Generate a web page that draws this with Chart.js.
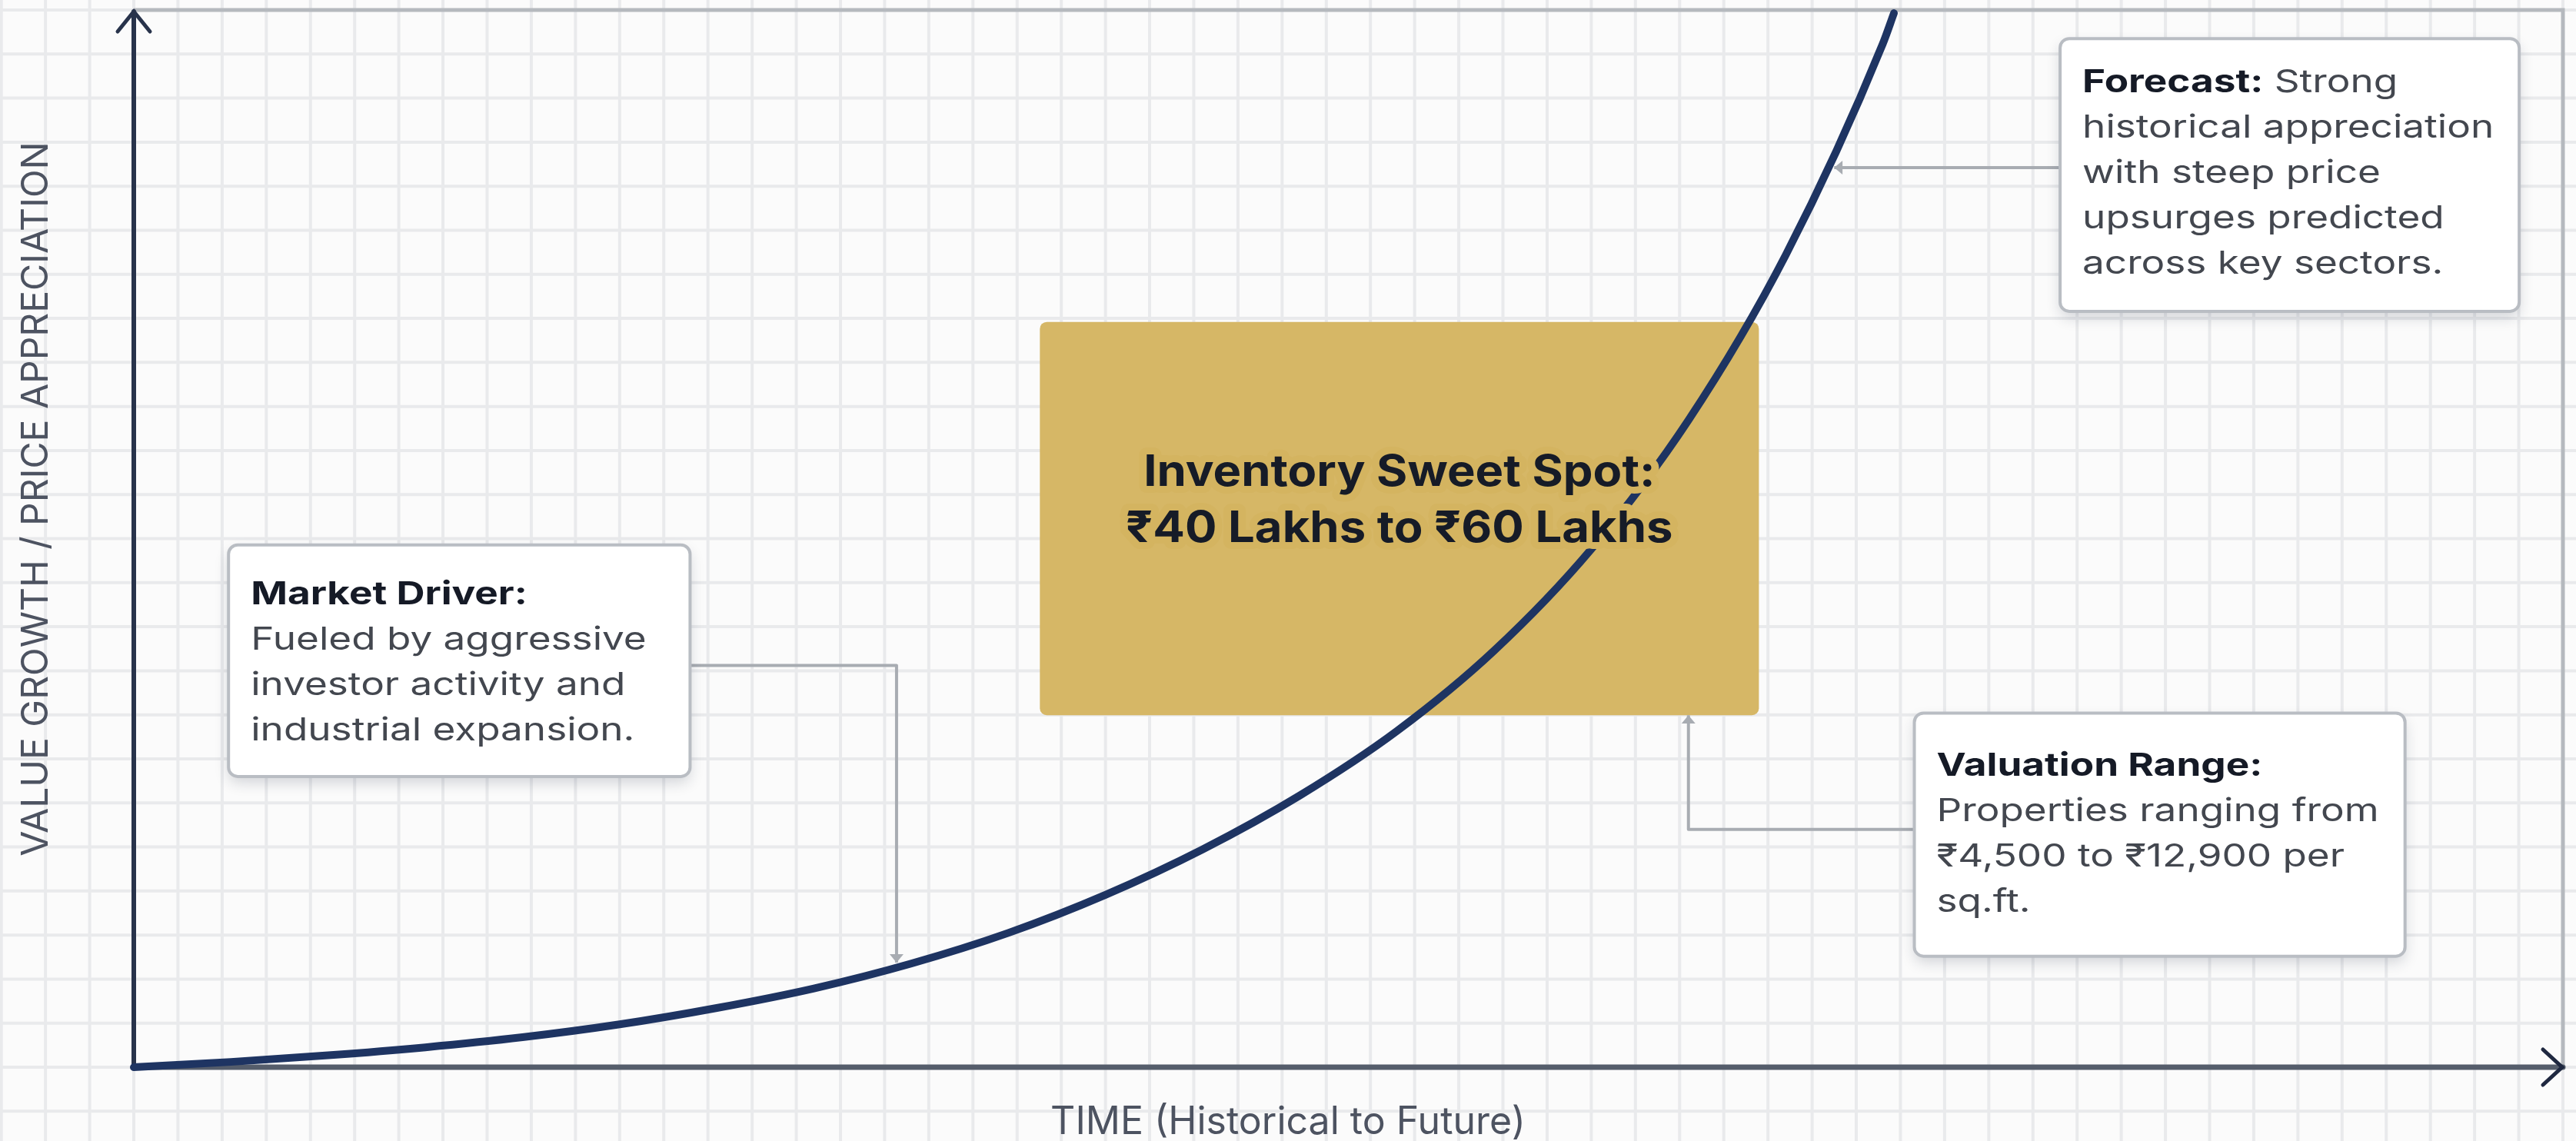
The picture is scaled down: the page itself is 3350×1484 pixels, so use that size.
<!DOCTYPE html>
<html lang="en">
<head>
<meta charset="UTF-8">
<title>Value Growth / Price Appreciation</title>
<script src="https://cdn.jsdelivr.net/npm/chart.js@4.4.1/dist/chart.umd.min.js"></script>
<style>
    html, body { margin: 0; padding: 0; background: #fbfbfb; }
    #wrap { width: 3350px; height: 1484px; position: relative; }
</style>
</head>
<body>
<div id="wrap"><canvas id="growth-chart"></canvas></div>
<script>
// curve (time 0-100 vs value 0-100)
const timeSteps = [0, 4, 8, 12, 16, 20, 24, 28, 32, 36, 40, 44, 48, 52, 56, 60, 64, 68, 72, 72.46];
const valueGrowth = [0, 0.5, 1.12, 1.88, 2.83, 4.05, 5.6, 7.45, 9.8, 12.7, 16.3, 20.6, 25.7, 31.8, 39.4, 49.0, 61.2, 76.8, 96.8, 99.7];

const axisTitleX = "TIME (Historical to Future)";
const axisTitleY = "VALUE GROWTH / PRICE APPRECIATION";

const sweetSpotLines = ["Inventory Sweet Spot:", "₹40 Lakhs to ₹60 Lakhs"];
const marketDriverLines = [[["Market Driver:", true]], "Fueled by aggressive", "investor activity and", "industrial expansion."];
const forecastLines = [[["Forecast:", true], [" Strong", false]], "historical appreciation", "with steep price", "upsurges predicted", "across key sectors."];
const valuationLines = [[["Valuation Range:", true]], "Properties ranging from", "₹4,500 to ₹12,900 per", "sq.ft."];

// boxes + connectors, in data units
const sweetSpotBox = { x0: 37.3, x1: 66.9, y0: 33.3, y1: 70.5 };
const callouts = [
    { lines: marketDriverLines, box: { x0: 3.9, x1: 22.9, y0: 27.5, y1: 49.4 }, firstLine: 77,
      path: [[22.9, 38.0], [31.4, 38.0], [31.4, 9.9]], head: "down" },
    { lines: forecastLines, box: { x0: 79.3, x1: 98.2, y0: 71.5, y1: 97.3 }, firstLine: 70,
      path: [[79.3, 85.1], [70.0, 85.1]], head: "left" },
    { lines: valuationLines, box: { x0: 73.3, x1: 93.5, y0: 10.5, y1: 33.5 }, firstLine: 82,
      path: [[73.3, 22.5], [64.0, 22.5], [64.0, 33.3]], head: "up" },
];

const FONT = 'Inter, "Noto Sans", "DejaVu Sans", sans-serif';
const LINE_GAP = 59;
const TEXT_STRETCH = 1.25;

function runsOf(line) {
    return typeof line === "string" ? [[line, false]] : line;
}

function drawRuns(ctx, runs, x, y, size, stretch) {
    let cx = x;
    runs.forEach(([text, bold]) => {
        ctx.font = `${bold ? 700 : 400} ${size}px ${FONT}`;
        ctx.fillStyle = bold ? "#151a26" : "#43474f";
        ctx.save();
        ctx.translate(cx, y);
        ctx.scale(stretch, 1);
        ctx.fillText(text, 0, 0);
        ctx.restore();
        cx += ctx.measureText(text).width * stretch;
    });
}

function arrowHead(ctx, x, y, dir, size) {
    ctx.beginPath();
    if (dir === "down") { ctx.moveTo(x, y); ctx.lineTo(x - size, y - size * 1.2); ctx.lineTo(x + size, y - size * 1.2); }
    if (dir === "up") { ctx.moveTo(x, y); ctx.lineTo(x - size, y + size * 1.2); ctx.lineTo(x + size, y + size * 1.2); }
    if (dir === "left") { ctx.moveTo(x, y); ctx.lineTo(x + size * 1.2, y - size); ctx.lineTo(x + size * 1.2, y + size); }
    ctx.closePath();
    ctx.fill();
}

const paperPlugin = {
    id: "paper",
    beforeDraw(chart) {
        const { ctx, chartArea: a, width, height } = chart;
        ctx.save();
        ctx.fillStyle = "#fbfbfb";
        ctx.fillRect(0, 0, width, height);

        // graph paper, lined up with the plot frame
        const stepX = (a.right - a.left) / 55;
        const stepY = (a.bottom - a.top) / 24;
        ctx.strokeStyle = "#e9eaec";
        ctx.lineWidth = 4;
        ctx.beginPath();
        for (let x = a.left - Math.ceil(a.left / stepX) * stepX; x <= width; x += stepX) {
            ctx.moveTo(x, 0); ctx.lineTo(x, height);
        }
        for (let y = a.top - Math.ceil(a.top / stepY) * stepY; y <= height; y += stepY) {
            ctx.moveTo(0, y); ctx.lineTo(width, y);
        }
        ctx.stroke();

        // light frame top + right
        ctx.strokeStyle = "#b5b9be";
        ctx.lineWidth = 5;
        ctx.beginPath();
        ctx.moveTo(a.left, a.top);
        ctx.lineTo(a.right, a.top);
        ctx.lineTo(a.right, a.bottom);
        ctx.stroke();
        ctx.restore();
    },
    beforeDatasetsDraw(chart) {
        const { ctx, chartArea: a, scales } = chart;
        const xs = scales.x, ys = scales.y;
        ctx.save();

        // sweet spot box sits under the curve
        const b = sweetSpotBox;
        ctx.fillStyle = "rgba(212, 180, 96, 0.96)";
        ctx.beginPath();
        ctx.roundRect(xs.getPixelForValue(b.x0), ys.getPixelForValue(b.y1),
            xs.getPixelForValue(b.x1) - xs.getPixelForValue(b.x0),
            ys.getPixelForValue(b.y0) - ys.getPixelForValue(b.y1), 9);
        ctx.fill();

        // axes with arrows
        ctx.lineCap = "round";
        ctx.strokeStyle = "#555d6b";
        ctx.lineWidth = 7;
        ctx.beginPath();
        ctx.moveTo(a.left, a.bottom);
        ctx.lineTo(a.right, a.bottom);
        ctx.stroke();
        ctx.strokeStyle = "#28334b";
        ctx.lineWidth = 6;
        ctx.beginPath();
        ctx.moveTo(a.left, a.bottom);
        ctx.lineTo(a.left, a.top + 2);
        ctx.stroke();
        ctx.lineWidth = 5;
        ctx.beginPath();
        ctx.moveTo(a.left - 21, a.top + 28);
        ctx.lineTo(a.left, a.top + 2);
        ctx.lineTo(a.left + 21, a.top + 28);
        ctx.stroke();
        ctx.strokeStyle = "#1f2840";
        ctx.beginPath();
        ctx.moveTo(a.right - 26, a.bottom - 23);
        ctx.lineTo(a.right - 1, a.bottom);
        ctx.lineTo(a.right - 26, a.bottom + 23);
        ctx.stroke();
        ctx.restore();
    },
    afterDatasetsDraw(chart) {
        const { ctx, scales, width } = chart;
        const xs = scales.x, ys = scales.y;
        ctx.save();

        // sweet spot label with a halo that cuts the curve
        const b = sweetSpotBox;
        const cx = (xs.getPixelForValue(b.x0) + xs.getPixelForValue(b.x1)) / 2;
        const top = ys.getPixelForValue(b.y1);
        ctx.font = `700 56px ${FONT}`;
        ctx.textAlign = "center";
        ctx.lineJoin = "round";
        sweetSpotLines.forEach((line, i) => {
            const y = top + 213 + i * 73;
            ctx.save();
            ctx.translate(cx, y);
            ctx.scale(1.1, 1);
            ctx.strokeStyle = "rgb(212, 180, 96)";
            ctx.lineWidth = 18;
            ctx.strokeText(line, 0, 0);
            ctx.fillStyle = "#161b27";
            ctx.fillText(line, 0, 0);
            ctx.restore();
        });
        ctx.textAlign = "left";

        // callout connectors and boxes
        callouts.forEach((c) => {
            const pts = c.path.map(([px, py]) => [xs.getPixelForValue(px), ys.getPixelForValue(py)]);
            ctx.strokeStyle = "#a8acb2";
            ctx.fillStyle = "#a8acb2";
            ctx.lineWidth = 4;
            ctx.beginPath();
            pts.forEach(([px, py], i) => (i ? ctx.lineTo(px, py) : ctx.moveTo(px, py)));
            ctx.stroke();
            const end = pts[pts.length - 1];
            arrowHead(ctx, end[0], end[1], c.head, 9);

            const x0 = xs.getPixelForValue(c.box.x0), x1 = xs.getPixelForValue(c.box.x1);
            const y0 = ys.getPixelForValue(c.box.y1), y1 = ys.getPixelForValue(c.box.y0);
            ctx.save();
            ctx.shadowColor = "rgba(30, 40, 60, 0.18)";
            ctx.shadowBlur = 18;
            ctx.shadowOffsetY = 8;
            ctx.fillStyle = "#ffffff";
            ctx.beginPath();
            ctx.roundRect(x0, y0, x1 - x0, y1 - y0, 12);
            ctx.fill();
            ctx.restore();
            ctx.strokeStyle = "#b9bdc3";
            ctx.lineWidth = 4;
            ctx.beginPath();
            ctx.roundRect(x0, y0, x1 - x0, y1 - y0, 12);
            ctx.stroke();

            c.lines.forEach((line, i) => {
                drawRuns(ctx, runsOf(line), x0 + 29, y0 + c.firstLine + i * LINE_GAP, 41, TEXT_STRETCH);
            });
        });

        // axis titles
        ctx.fillStyle = "#4d5361";
        ctx.font = `400 50px ${FONT}`;
        ctx.textAlign = "center";
        ctx.fillText(axisTitleX, width / 2, 1475);
        ctx.save();
        ctx.translate(62, 649);
        ctx.rotate(-Math.PI / 2);
        ctx.font = `400 48px ${FONT}`;
        ctx.fillText(axisTitleY, 0, 0);
        ctx.restore();
        ctx.restore();
    },
};

document.addEventListener("DOMContentLoaded", function () {
    const ctx = document.getElementById("growth-chart").getContext("2d");
    new Chart(ctx, {
        type: "line",
        data: {
            datasets: [
                {
                    label: "Value Growth",
                    data: timeSteps.map((t, i) => ({ x: t, y: valueGrowth[i] })),
                    borderColor: "#1e3462",
                    borderWidth: 10,
                    borderCapStyle: "round",
                    pointRadius: 0,
                    cubicInterpolationMode: "monotone",
                    clip: false,
                },
            ],
        },
        options: {
            responsive: true,
            maintainAspectRatio: false,
            animation: false,
            layout: { padding: { left: 174, top: 13, right: 17, bottom: 96 } },
            scales: {
                x: { type: "linear", min: 0, max: 100, display: false },
                y: { type: "linear", min: 0, max: 100, display: false },
            },
            plugins: {
                legend: { display: false },
                tooltip: { enabled: false },
            },
        },
        plugins: [paperPlugin],
    });
});
</script>
</body>
</html>
